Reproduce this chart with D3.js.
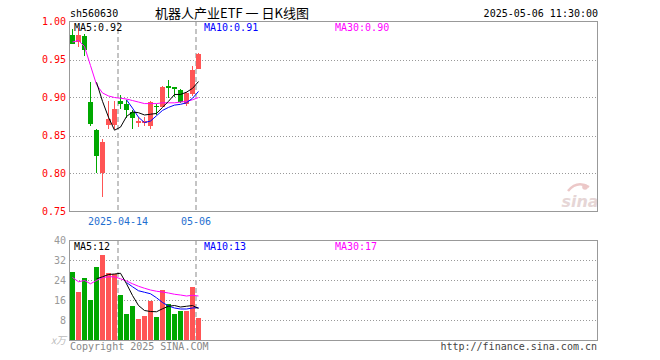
<!DOCTYPE html>
<html><head><meta charset="utf-8">
<script src="https://cdn.jsdelivr.net/npm/d3@7/dist/d3.min.js"></script>
<style>
body{margin:0;background:#fff}
svg{display:block}
text{font-family:"DejaVu Sans Mono",monospace;font-size:10px}
</style>
</head><body>
<svg id="c" width="660" height="360"></svg>
<script>
// ---------- data ----------
const dates = ['2025-04-01','2025-04-02','2025-04-03','2025-04-07','2025-04-08','2025-04-09','2025-04-10','2025-04-11',
  '2025-04-14','2025-04-15','2025-04-16','2025-04-17','2025-04-18','2025-04-21','2025-04-22','2025-04-23',
  '2025-04-24','2025-04-25','2025-04-28','2025-04-29','2025-04-30','2025-05-06'];
const openP  = [0.982,0.973,0.981,0.894,0.857,0.800,0.864,0.864,0.8956,0.891,0.881,0.867,0.866,0.863,0.889,0.888,0.915,0.9136,0.9096,0.892,0.904,0.938];
const highP  = [0.990,0.992,0.983,0.920,0.858,0.846,0.896,0.896,0.903,0.8965,0.884,0.8745,0.874,0.896,0.892,0.915,0.9225,0.914,0.911,0.907,0.942,0.958];
const lowP   = [0.970,0.967,0.955,0.863,0.800,0.769,0.858,0.858,0.8855,0.8724,0.859,0.861,0.862,0.859,0.877,0.887,0.8995,0.900,0.893,0.889,0.902,0.937];
const closeP = [0.971,0.982,0.962,0.865,0.823,0.841,0.872,0.885,0.8912,0.884,0.873,0.869,0.869,0.894,0.888,0.914,0.912,0.911,0.8942,0.906,0.936,0.957];
const volume = [27.2,19.2,24.8,16.0,29.2,34.0,26.7,26.3,18.0,10.4,13.6,8.4,9.6,15.6,9.2,20.0,14.4,10.4,11.6,11.6,21.2,8.8];

// moving averages as drawn (first index where each starts)
const ma5PriceStart = 4;
const ma5Price  = [0.920,0.895,0.874,0.857,0.861,0.875,0.881,0.880,0.877,0.878,0.879,0.887,0.895,0.904,0.904,0.907,0.912,0.921];
const ma10PriceStart = 9;
const ma10Price = [0.897,0.886,0.874,0.867,0.869,0.876,0.883,0.887,0.890,0.891,0.893,0.899,0.908];
const ma30PriceStart = 0;
const ma30Price = [0.973,0.975,0.967,0.942,0.917,0.906,0.902,0.900,0.899,0.898,0.896,0.894,0.892,0.892,0.892,0.893,0.893,0.893,0.894,0.895,0.897,0.900];

const ma5VolStart = 4;
const ma5Vol  = [24.5,25.3,26.2,26.4,26.7,22.5,17.8,13.8,11.8,11.4,11.3,12.5,13.5,13.8,13.2,13.5,13.8,12.6];
const ma10VolStart = 9;
const ma10Vol = [23.0,21.3,19.7,19.1,18.5,16.9,15.0,13.6,12.8,12.4,12.4,12.8,13.0];
const ma30VolStart = 0;
const ma30Vol = [25.0,23.3,23.8,22.5,23.8,25.0,25.3,25.3,24.5,23.6,22.5,21.5,20.7,20.0,19.5,19.2,18.8,18.3,18.0,17.6,17.9,17.6];

const priceTicks = [0.75,0.80,0.85,0.90,0.95,1.00];
const priceGrid  = [0.80,0.85,0.90,0.95];
const volTicks   = [8,16,24,32,40];
const volGrid    = [8,16,24,32];
const dateMarks  = ['2025-04-14','2025-05-06'];
const dateMarkLabels = ['2025-04-14','05-06'];

const code = 'sh560630';
const title = '机器人产业ETF 一 日K线图';
const stamp = '2025-05-06 11:30:00';
const priceMaLabels = ['MA5:0.92','MA10:0.91','MA30:0.90'];
const volMaLabels = ['MA5:12','MA10:13','MA30:17'];

// ---------- drawing ----------
const RED='#ff5555', GREEN='#00a800';
const MA_COLORS=['#000000','#0000ff','#ff00ff'];
const svg = d3.select('#c');

const slots = 88;
const xs = d3.scaleLinear().domain([0,slots]).range([70,598]);
const py = d3.scaleLinear().domain([0.75,1.00]).range([211.5,21.5]);
const vy = d3.scaleLinear().domain([0,40]).range([340,240]);
const cx = i => xs(i)+2.5;

const L=69.5, R=597.5;

// header
svg.append('text').attr('x',70).attr('y',17).attr('fill','#000').text(code);
svg.append('text').attr('x',232).attr('y',18).attr('text-anchor','middle')
  .style('font-family','"Noto Sans CJK SC",sans-serif').style('font-size','13px').attr('fill','#000')
  .attr('xml:space','preserve').style('white-space','pre').text(title);
svg.append('text').attr('x',598).attr('y',17).attr('text-anchor','end').attr('fill','#000').text(stamp);

// grids
const g = svg.append('g');
g.selectAll('.pg').data(priceGrid).join('line')
  .attr('x1',L).attr('x2',R).attr('y1',d=>Math.round(py(d))+0.5).attr('y2',d=>Math.round(py(d))+0.5)
  .attr('stroke','#999').attr('stroke-dasharray','1,2').attr('shape-rendering','crispEdges');
g.selectAll('.vg').data(volGrid).join('line')
  .attr('x1',L).attr('x2',R).attr('y1',d=>Math.round(vy(d))+0.5).attr('y2',d=>Math.round(vy(d))+0.5)
  .attr('stroke','#999').attr('stroke-dasharray','1,2').attr('shape-rendering','crispEdges');

// date marker lines
const markIdx = dateMarks.map(d=>dates.indexOf(d));
[[21,211],[240,340]].forEach(([a,b])=>{
  g.selectAll(null).data(markIdx).join('line')
    .attr('x1',i=>xs(i)).attr('x2',i=>xs(i)).attr('y1',a).attr('y2',b)
    .attr('stroke','#c4c4c4').attr('stroke-width',2).attr('stroke-dasharray','5,3');
});

// watermark
const wm = svg.append('g');
wm.append('path').attr('d','M568,191 Q577,180 589,187').attr('fill','none').attr('stroke','#ecc8c8').attr('stroke-width',2.5);
wm.append('circle').attr('cx',585).attr('cy',187).attr('r',2.8).attr('fill','#ecc8c8');
wm.append('text').attr('x',580).attr('y',207).attr('text-anchor','middle')
  .style('font-family','"DejaVu Sans",sans-serif').style('font-size','16px').style('font-style','italic').style('font-weight','bold')
  .attr('fill','#e6d6d6').text('sina');

// candles
const idx = d3.range(dates.length);
const up = i => closeP[i] >= openP[i];
const cg = svg.append('g');
cg.selectAll('.wick').data(idx).join('line')
  .attr('x1',i=>Math.floor(cx(i))+0.5).attr('x2',i=>Math.floor(cx(i))+0.5)
  .attr('y1',i=>Math.round(py(highP[i]))).attr('y2',i=>Math.round(py(lowP[i])))
  .attr('stroke',i=>up(i)?RED:GREEN).attr('shape-rendering','crispEdges');
cg.selectAll('.body').data(idx).join('rect')
  .attr('x',i=>xs(i)).attr('width',5)
  .attr('y',i=>Math.round(py(Math.max(openP[i],closeP[i]))))
  .attr('height',i=>Math.max(1,Math.round(py(Math.min(openP[i],closeP[i])))-Math.round(py(Math.max(openP[i],closeP[i])))))
  .attr('fill',i=>up(i)?RED:GREEN).attr('shape-rendering','crispEdges');

// volume bars
cg.selectAll('.vol').data(idx).join('rect')
  .attr('x',i=>xs(i)).attr('width',5)
  .attr('y',i=>Math.round(vy(volume[i]))).attr('height',i=>340-Math.round(vy(volume[i])))
  .attr('fill',i=>up(i)?RED:GREEN).attr('shape-rendering','crispEdges');

// MA lines
function maLine(vals,start,yScale,color){
  const ln = d3.line().x((d,k)=>cx(k+start)).y(d=>yScale(d));
  svg.append('path').attr('d',ln(vals)).attr('fill','none').attr('stroke',color).attr('stroke-width',1);
}
maLine(ma30Price,ma30PriceStart,py,MA_COLORS[2]);
maLine(ma10Price,ma10PriceStart,py,MA_COLORS[1]);
maLine(ma5Price,ma5PriceStart,py,MA_COLORS[0]);
maLine(ma30Vol,ma30VolStart,vy,MA_COLORS[2]);
maLine(ma10Vol,ma10VolStart,vy,MA_COLORS[1]);
maLine(ma5Vol,ma5VolStart,vy,MA_COLORS[0]);

// frames
svg.append('rect').attr('x',L).attr('y',21.5).attr('width',R-L).attr('height',190)
  .attr('fill','none').attr('stroke','#999').attr('shape-rendering','crispEdges');
svg.append('rect').attr('x',L).attr('y',240.5).attr('width',R-L).attr('height',100)
  .attr('fill','none').attr('stroke','#999').attr('shape-rendering','crispEdges');

// MA labels
const maX=[74,204,335];
priceMaLabels.forEach((t,k)=>svg.append('text').attr('x',maX[k]).attr('y',31).attr('fill',MA_COLORS[k]).text(t));
volMaLabels.forEach((t,k)=>svg.append('text').attr('x',maX[k]).attr('y',250).attr('fill',MA_COLORS[k]).text(t));

// axis labels
svg.selectAll('.pt').data(priceTicks).join('text')
  .attr('x',66).attr('y',d=>py(d)+3.5).attr('text-anchor','end').attr('fill','#ff0000')
  .text(d=>d3.format('.2f')(d));
svg.selectAll('.vt').data(volTicks).join('text')
  .attr('x',66).attr('y',d=>vy(d)+3.5).attr('text-anchor','end').attr('fill','#999')
  .text(d=>d);
svg.append('text').attr('x',66).attr('y',344).attr('text-anchor','end').attr('fill','#bbb')
  .style('font-family','"Noto Sans CJK SC",sans-serif').style('font-style','italic').text('x万');

svg.selectAll('.dl').data(markIdx).join('text')
  .attr('x',i=>xs(i)).attr('y',225).attr('text-anchor','middle').attr('fill','#1f6fd0')
  .text((i,k)=>dateMarkLabels[k]);

// footer
svg.append('text').attr('x',70).attr('y',350).attr('fill','#888').text('Copyright 2025 SINA.COM');
svg.append('text').attr('x',597).attr('y',350).attr('text-anchor','end').attr('fill','#444').text('http://finance.sina.com.cn');
</script>
</body></html>
